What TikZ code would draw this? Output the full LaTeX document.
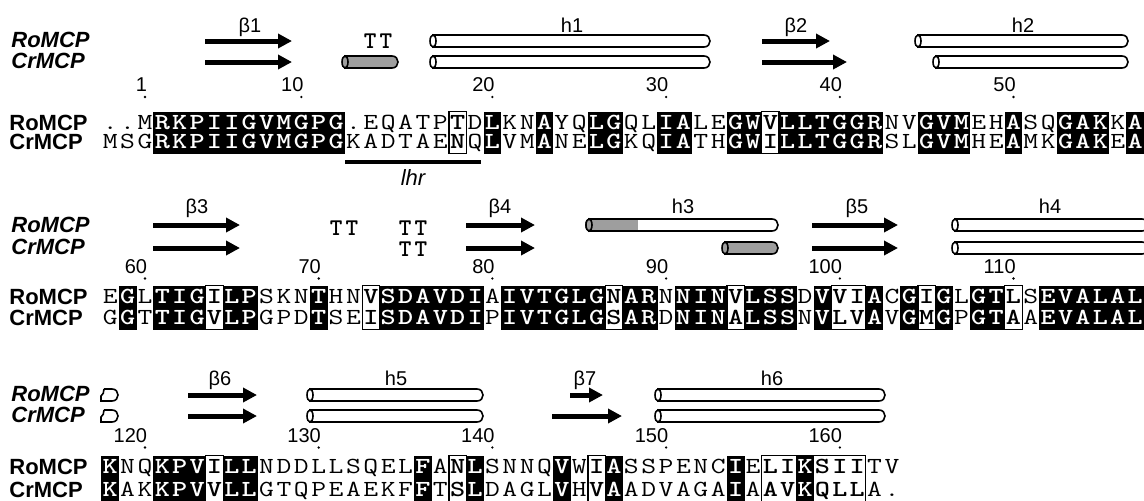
\documentclass[tikz,border=0pt]{standalone}
\usepackage{graphicx}
\usepackage{fontspec}
\setmainfont{Liberation Sans}
\usetikzlibrary{arrows.meta}

\colorlet{ssgray}{black!38}

\tikzset{
  seqname/.style={font=\fontsize{11}{13}\selectfont\bfseries, anchor=base west, inner sep=0pt},
  ssname/.style={seqname, font=\fontsize{11}{13}\selectfont\bfseries\itshape},
  sslabel/.style={font=\fontsize{10}{11}\selectfont, anchor=base, inner sep=0pt},
  resnum/.style={font=\fontsize{10}{11}\selectfont, anchor=base east, inner sep=0pt},
  res/.style={font=\fontsize{11.5}{12}\selectfont\ttfamily, anchor=base, inner sep=0pt},
  resid/.style={res, font=\fontsize{11.5}{12}\selectfont\ttfamily\bfseries, text=white},
  ressim/.style={res, font=\fontsize{11.5}{12}\selectfont\ttfamily\bfseries},
  strand/.style={line width=2.5pt, -{Triangle[length=7pt,width=7pt]}},
  helixline/.style={line width=0.8pt},
  turn/.style={font=\fontsize{12}{12}\selectfont\ttfamily\bfseries, anchor=base, inner sep=0pt},
  simframe/.style={line width=0.6pt},
}

% one alignment row: name, y, residues, shading (b = identical, f = similar, w = other)
\newcount\rescol
\newcommand\seqrow[4]{%
  \global\rescol=0
  \def\rowname{#1}\def\rowy{#2}%
  \seqstep#3\relax#4\relax}
\def\seqstep#1#2\relax#3#4\relax{%
  \global\advance\rescol by 1
  \seqcell{#1}{#3}%
  \ifx\relax#2\relax\else\seqstep#2\relax#4\relax\fi}
\newcommand\seqcell[2]{%
  \pgfmathsetmacro\cx{92.9+17.37*\rescol}%
  \if b#2%
    \fill ({\cx-8.9},\rowy-11.5) rectangle ({\cx+8.9},\rowy+11.5);
    \node[resid] (\rowname-\the\rescol) at (\cx,\rowy+6.5) {\scalebox{1.25}[1]{#1}};
  \else\if f#2%
    \node[ressim] (\rowname-\the\rescol) at (\cx,\rowy+6.5) {\scalebox{1.25}[1]{#1}};
  \else
    \node[res] (\rowname-\the\rescol) at (\cx,\rowy+6.5) {\scalebox{1.25}[1]{#1}};
  \fi\fi}

% secondary structure elements
\newcommand\ssstrand[3]{\draw[strand] (#1,#3) -- (#2,#3);}
\newcommand\sshelix[4]{%
  \filldraw[helixline, fill=#4] (#1,#3-6) -- (#2-6,#3-6) .. controls (#2+2,#3-6) and (#2+2,#3+6) .. (#2-6,#3+6) -- (#1,#3+6) -- cycle;
  \filldraw[helixline, fill=#4] (#1,#3) ellipse [x radius=3, y radius=6];}
\newcommand\sshelixend[2]{%
  \draw[helixline] (#1+3,#2-6) -- (#1+11,#2-6) .. controls (#1+19,#2-6) and (#1+19,#2+6) .. (#1+11,#2+6) -- (#1,#2+6) -- (#1,#2+1) .. controls (#1+2,#2) and (#1+3,#2-3) .. (#1+3,#2-6);}

\begin{document}
\begin{tikzpicture}[x=0.5pt, y=-0.5pt]
  \useasboundingbox (0,0) rectangle (1144,500);

  % Block 1: columns for residues 1-57
  \node[ssname] (ssro1) at (11,47) {RoMCP};
  \node[ssname] (sscr1) at (11,68) {CrMCP};
  \node[sslabel] (b1) at (250,32) {β1};
  \ssstrand{205}{292}{41}
  \ssstrand{205}{292}{62}
  \node[turn] (tt1) at (378,48) {T\kern1.5pt T};
  \sshelix{345}{398}{62}{ssgray}
  \node[sslabel] (h1) at (572,32) {h1};
  \sshelix{433}{710}{41}{white}
  \sshelix{433}{710}{62}{white}
  \node[sslabel] (b2) at (796,32) {β2};
  \ssstrand{762}{830}{41}
  \ssstrand{762}{847}{62}
  \node[sslabel] (h2) at (1023,32) {h2};
  \sshelix{918}{1128}{41}{white}
  \sshelix{936}{1128}{62}{white}
  \foreach \c/\n in {3/1,12/10,23/20,33/30,43/40,53/50} {
    \node[resnum] (num\n) at ({95.4+17.37*\c},91) {\n};
    \fill ({92.9+17.37*\c},97) circle (1.3);
  }
  \foreach \a/\b in {21/21,39/39}
    \draw[simframe] ({84.2+17.37*\a},111.5) rectangle ({101.6+17.37*\b},153.5);
  \node[seqname] (ro1) at (9,130) {RoMCP};
  \node[seqname] (cr1) at (9,149) {CrMCP};
  \seqrow{roa}{123}{..MRKPIIGVMGPG.EQATPTDLKNAYQLGQLIALEGWVLLTGGRNVGVMEHASQGAKKA}{wwwbbbbbbbbbbbwwwwwwfwbwwbwwbbwwbbwwbbfbbbbbbwwbbbwwbwwbbbwb}
  \seqrow{cra}{142}{MSGRKPIIGVMGPGKADTAENQLVMANELGKQIATHGWILLTGGRSLGVMHEAMKGAKEA}{wwwbbbbbbbbbbbwwwwwwfwbwwbwwbbwwbbwwbbfbbbbbbwwbbbwwbwwbbbwb}
  \coordinate (lhrL) at (345,162);
  \coordinate (lhrR) at (481,162);
  \draw[line width=2pt] (lhrL) -- (lhrR);
  \node[font=\fontsize{11}{13}\selectfont\itshape, anchor=base, inner sep=0pt] (lhr) at (413,185) {lhr};

  % Block 2: residues 58-117
  \node[ssname] (ssro2) at (11,232) {RoMCP};
  \node[ssname] (sscr2) at (11,254) {CrMCP};
  \node[sslabel] (b3) at (197,213) {β3};
  \ssstrand{153}{240}{225}
  \ssstrand{153}{240}{248}
  \node[turn] (tt2) at (344,235) {T\kern1.5pt T};
  \node[turn] (tt3) at (413,235) {T\kern1.5pt T};
  \node[turn] (tt4) at (413,256) {T\kern1.5pt T};
  \node[sslabel] (b4) at (500,213) {β4};
  \ssstrand{466}{535}{225}
  \ssstrand{466}{535}{248}
  \node[sslabel] (h3) at (683,213) {h3};
  \sshelix{589}{778}{225}{white}
  \fill[ssgray] (589,219.5) rectangle (638,230.5);
  \draw[helixline] (589,219) -- (640,219) (589,231) -- (640,231);
  \filldraw[helixline, fill=ssgray] (589,225) ellipse [x radius=3, y radius=6];
  \sshelix{725}{778}{248}{ssgray}
  \node[sslabel] (b5) at (857,213) {β5};
  \ssstrand{812}{898}{225}
  \ssstrand{812}{898}{248}
  \node[sslabel] (h4) at (1050,213) {h4};
  \sshelix{955}{1148}{225}{white}
  \sshelix{955}{1148}{248}{white}
  \foreach \c/\n in {3/60,13/70,23/80,33/90,43/100,53/110} {
    \node[resnum] (num\n) at ({95.4+17.37*\c},273) {\n};
    \fill ({92.9+17.37*\c},278.5) circle (1.3);
  }
  \foreach \a/\b in {7/7,16/16,30/30,37/37,43/44,48/48,53/53}
    \draw[simframe] ({84.2+17.37*\a},285.5) rectangle ({101.6+17.37*\b},329.5);
  \node[seqname] (ro2) at (9,304) {RoMCP};
  \node[seqname] (cr2) at (9,325) {CrMCP};
  \seqrow{rob}{297}{EGLTIGILPSKNTHNVSDAVDIAIVTGLGNARNNINVLSSDVVIACGIGLGTLSEVALAL}{wbwbbbfbbwwwbwwfbbbbbbwbbbbbbfbbwbbbfbbbwbffbwbfbwbbfwbbbbbb}
  \seqrow{crb}{318}{GGTTIGVLPGPDTSEISDAVDIPIVTGLGSARDNINALSSNVLVAVGMGPGTAAEVALAL}{wbwbbbfbbwwwbwwfbbbbbbwbbbbbbfbbwbbbfbbbwbffbwbfbwbbfwbbbbbb}

  % Block 3: residues 118-163
  \node[ssname] (ssro3) at (11,401) {RoMCP};
  \node[ssname] (sscr3) at (11,422) {CrMCP};
  \sshelixend{101}{395}
  \sshelixend{101}{416}
  \node[sslabel] (b6) at (220,385) {β6};
  \ssstrand{188}{257}{395}
  \ssstrand{188}{257}{416}
  \node[sslabel] (h5) at (396,385) {h5};
  \sshelix{310}{483}{395}{white}
  \sshelix{310}{483}{416}{white}
  \node[sslabel] (b7) at (585,385) {β7};
  \ssstrand{570}{603}{395}
  \ssstrand{552}{622}{416}
  \node[sslabel] (h6) at (772,385) {h6};
  \sshelix{658}{885}{395}{white}
  \sshelix{658}{885}{416}{white}
  \foreach \c/\n in {3/120,13/130,23/140,33/150,43/160} {
    \node[resnum] (num\n) at ({95.4+17.37*\c},442) {\n};
    \fill ({92.9+17.37*\c},447.5) circle (1.3);
  }
  \foreach \a/\b in {7/7,21/21,29/29,39/44}
    \draw[simframe] ({84.2+17.37*\a},455.5) rectangle ({101.6+17.37*\b},501.5);
  \node[seqname] (ro3) at (9,474) {RoMCP};
  \node[seqname] (cr3) at (9,497) {CrMCP};
  \seqrow{roc}{467}{KNQKPVILLNDDLLSQELFANLSNNQVWIASSPENCIELIKSIITV}{bwwbbbfbbwwwwwwwwwbwfbwwwwbwfbwwwwwwbwffbfffww}
  \seqrow{crc}{490}{KAKKPVVLLGTQPEAEKFFTSLDAGLVHVAADVAGAIAAVKQLLA.}{bwwbbbfbbwwwwwwwwwbwfbwwwwbwfbwwwwwwbwffbfffww}
\end{tikzpicture}
\end{document}
